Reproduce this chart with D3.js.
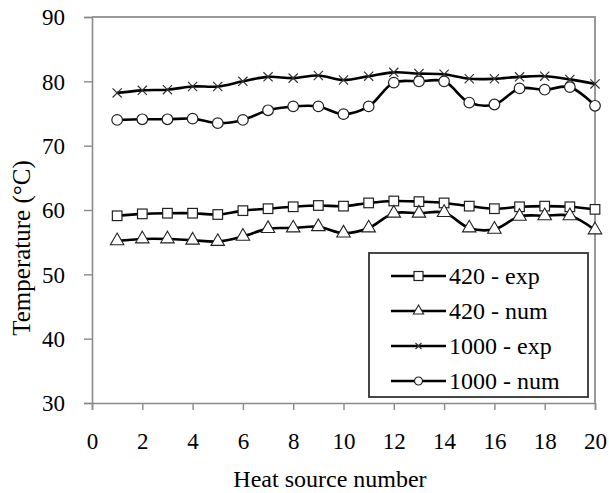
<!DOCTYPE html>
<html lang="en">
<head>
<meta charset="UTF-8">
<title>Temperature vs heat source</title>
<script src="https://cdn.jsdelivr.net/npm/d3@7/dist/d3.min.js"></script>
<style>
  body { margin: 0; background: #fff; }
  svg text { font-family: "Liberation Serif", "DejaVu Serif", serif !important; fill: #000; }
</style>
</head>
<body>
<script>
    var width = 609, height = 493;
    var serif = "'Liberation Serif', 'DejaVu Serif', serif";

    // data
    var sources = d3.range(1, 21);
    var exp420  = [59.1, 59.4, 59.5, 59.5, 59.3, 59.9, 60.2, 60.5, 60.7, 60.6, 61.1, 61.4, 61.3, 61.1, 60.6, 60.2, 60.5, 60.6, 60.5, 60.1];
    var num420  = [55.2, 55.5, 55.5, 55.3, 55.1, 55.9, 57.1, 57.2, 57.4, 56.4, 57.2, 59.5, 59.5, 59.6, 57.2, 57.0, 59.0, 59.1, 59.1, 56.9];
    var exp1000 = [78.2, 78.6, 78.7, 79.2, 79.2, 80.0, 80.7, 80.5, 80.9, 80.2, 80.8, 81.4, 81.2, 81.1, 80.4, 80.4, 80.7, 80.8, 80.3, 79.6];
    var num1000 = [74.0, 74.1, 74.1, 74.2, 73.5, 74.0, 75.5, 76.1, 76.1, 74.9, 76.1, 79.8, 80.0, 80.0, 76.7, 76.4, 78.9, 78.7, 79.1, 76.2];
    var seriesNames = ["420 - exp", "420 - num", "1000 - exp", "1000 - num"];
    var markers = ["square", "triangle", "cross", "circle"];
    var xTicks = [0, 2, 4, 6, 8, 10, 12, 14, 16, 18, 20];
    var yTicks = [30, 40, 50, 60, 70, 80, 90];

    var series = [exp420, num420, exp1000, num1000].map(function (vals, i) {
        return { name: seriesNames[i], marker: markers[i],
                 pts: vals.map(function (v, j) { return [sources[j], v]; }) };
    });

    var plotL = 92, plotR = 595, plotT = 17, plotB = 403;

    var x = d3.scaleLinear().domain([0, 20]).range([plotL, plotR]);
    var y = d3.scaleLinear().domain([30, 90]).range([plotB, plotT]);

    var svg = d3.select("body").append("svg")
        .attr("width", width)
        .attr("height", height);

    svg.append("rect").attr("width", width).attr("height", height).attr("fill", "#fff");

    // frame top / right
    svg.append("path")
        .attr("d", "M" + plotL + "," + plotT + "H" + plotR + "V" + plotB)
        .attr("fill", "none").attr("stroke", "#9a9a9a").attr("stroke-width", 2);

    // axes
    var xAxis = svg.append("g")
        .attr("transform", "translate(0," + plotB + ")")
        .call(d3.axisBottom(x).tickValues(xTicks).tickSize(7).tickPadding(23));
    var yAxis = svg.append("g")
        .attr("transform", "translate(" + plotL + ",0)")
        .call(d3.axisLeft(y).tickValues(yTicks).tickSize(8).tickPadding(19));

    [xAxis, yAxis].forEach(function (g) {
        g.attr("font-family", serif);
        g.select(".domain").attr("stroke", "#8a8a8a").attr("stroke-width", 1.6);
        g.selectAll(".tick line").attr("stroke", "#8a8a8a").attr("stroke-width", 1.4);
        g.selectAll(".tick text").attr("font-size", 23)
            .attr("font-family", serif).attr("fill", "#000");
    });
    yAxis.selectAll(".tick text").attr("dy", "0.34em");

    svg.append("text")
        .attr("x", 330)
        .attr("y", 487)
        .attr("text-anchor", "middle")
        .attr("font-family", serif)
        .attr("font-size", 24)
        .text("Heat source number");

    svg.append("text")
        .attr("transform", "translate(30,248) rotate(-90)")
        .attr("text-anchor", "middle")
        .attr("font-family", serif)
        .attr("font-size", 25)
        .text("Temperature  (°C)");

    // lines
    var line = d3.line()
        .x(function (d) { return x(d[0]); })
        .y(function (d) { return y(d[1]); })
        .curve(d3.curveCatmullRom);

    function drawMarker(g, type, s) {
        if (type === "square") {
            g.append("rect").attr("x", -s).attr("y", -s).attr("width", 2 * s).attr("height", 2 * s)
                .attr("fill", "#fff").attr("stroke", "#222").attr("stroke-width", 1.2);
        } else if (type === "triangle") {
            g.append("path").attr("d", d3.symbol(d3.symbolTriangle, s * s * 2.6)())
                .attr("fill", "#fff").attr("stroke", "#222").attr("stroke-width", 1.1);
        } else if (type === "cross") {
            g.append("path").attr("d", "M" + (-s) + "," + (-s) + "L" + s + "," + s + "M" + (-s) + "," + s + "L" + s + "," + (-s))
                .attr("stroke", "#333").attr("stroke-width", 1.2);
        } else {
            g.append("circle").attr("r", s).attr("fill", "#fff").attr("stroke", "#222").attr("stroke-width", 1.2);
        }
    }

    var markerSize = { square: 4.8, triangle: 5.5, cross: 4.6, circle: 5.3 };

    series.forEach(function (s) {
        svg.append("path")
            .datum(s.pts)
            .attr("d", line)
            .attr("fill", "none")
            .attr("stroke", "#000")
            .attr("stroke-width", 2.6);
        svg.selectAll(null)
            .data(s.pts)
            .enter()
            .append("g")
            .attr("transform", function (d) { return "translate(" + x(d[0]) + "," + y(d[1]) + ")"; })
            .each(function () { drawMarker(d3.select(this), s.marker, markerSize[s.marker]); });
    });

    // legend
    var legend = svg.append("g");
    legend.append("rect")
        .attr("x", 369).attr("y", 253).attr("width", 219).attr("height", 144)
        .attr("fill", "#fff").attr("stroke", "#333").attr("stroke-width", 1.8);

    var legendSize = { square: 4.5, triangle: 4.2, cross: 3, circle: 4 };
    series.forEach(function (s, i) {
        var ly = 276 + i * 35;
        legend.append("line")
            .attr("x1", 391).attr("x2", 446).attr("y1", ly).attr("y2", ly)
            .attr("stroke", "#000").attr("stroke-width", 2.4);
        drawMarker(legend.append("g").attr("transform", "translate(418.5," + ly + ")"), s.marker, legendSize[s.marker]);
        legend.append("text")
            .attr("x", 449).attr("y", ly + 8)
            .attr("font-family", serif)
            .attr("font-size", 24)
            .text(s.name);
    });
</script>
</body>
</html>
